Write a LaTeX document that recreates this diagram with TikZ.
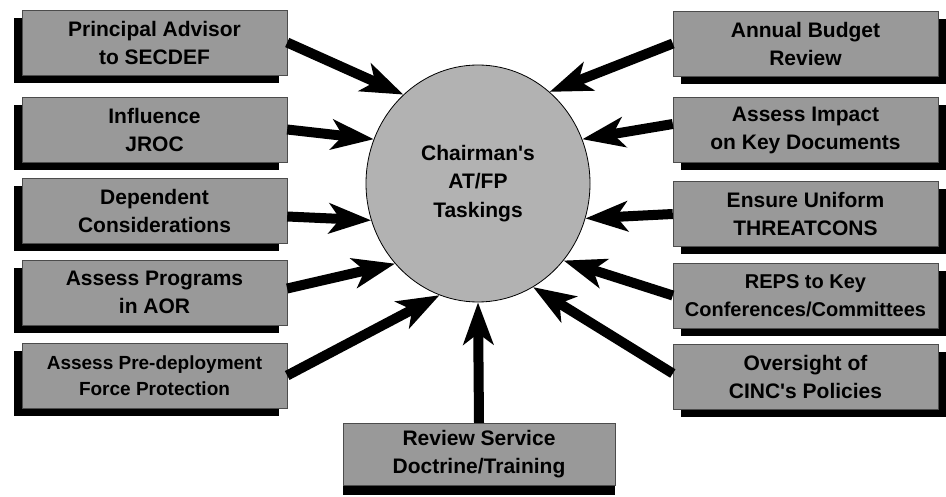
\documentclass[tikz,border=0pt]{standalone}
\usepackage{fontspec}
\setmainfont{Liberation Sans}
\usetikzlibrary{shapes.geometric, shadows, arrows.meta}
\tikzset{every picture/.append style={x=1pt, y=-1pt}}
\tikzset{
    task box/.style={rectangle, draw=black!70, fill=black!40, minimum width=265pt,
    	minimum height=65pt, align=center, inner sep=2pt,
    	font=\fontsize{21}{28}\selectfont\bfseries},
    left box/.style={task box, general shadow={fill=black, shadow xshift=-8pt,
    	shadow yshift=-8pt}},
    right box/.style={task box, general shadow={fill=black, shadow xshift=8pt,
    	shadow yshift=-8pt}},
    feed/.style={line width=10pt, draw=black,
    	-{Stealth[length=42pt, width=30pt, inset=11pt]}}
}

\begin{document}
\begin{tikzpicture}
  \useasboundingbox (0,0) rectangle (946,497);

  \node (task) [ellipse, draw, thick, fill=black!30, minimum width=224pt,
  	minimum height=237pt, align=center,
  	font=\fontsize{21}{28.5}\selectfont\bfseries] at (478,183.5)
  	{Chairman\textquotesingle s\\AT/FP\\Taskings};

  \node (adv) [left box] at (154.5,42.5) {Principal Advisor\\to SECDEF};
  \node (jroc) [left box] at (154.5,129.5) {Influence\\JROC};
  \node (dep) [left box] at (154.5,210.5) {Dependent\\Considerations};
  \node (aor) [left box] at (154.5,292.5) {Assess Programs\\in AOR};
  \node (predep) [left box, font=\fontsize{19}{26}\selectfont\bfseries]
  	at (154.5,375.5) {Assess Pre-deployment\\Force Protection};

  \node (budget) [right box] at (805.5,43.5) {Annual Budget\\Review};
  \node (impact) [right box] at (805.5,130) {Assess Impact\\on Key Documents};
  \node (tcon) [right box] at (805.5,214) {Ensure Uniform\\THREATCONS};
  \node (reps) [right box, font=\fontsize{20}{28}\selectfont\bfseries]
  	at (805.5,295.5) {REPS to Key\\Conferences/Committees};
  \node (cinc) [right box] at (805.5,376.5) {Oversight of\\CINC\textquotesingle s Policies};

  \node (doct) [task box, minimum width=272pt, minimum height=62pt,
  	general shadow={fill=black, shadow yshift=-10pt}] at (479,454)
  	{Review Service\\Doctrine/Training};

  \draw[feed] (adv.east) -- (task.130);
  \draw[feed] (jroc.east) -- (task.157);
  \draw[feed] ([yshift=-6pt]dep.east) -- (task.199);
  \draw[feed] ([yshift=4pt]aor.east) -- (task.224);
  \draw[feed] (predep.east) -- (task.251);
  \draw[feed] (doct.north) -- (task.south);
  \draw[feed] (budget.west) -- (task.52);
  \draw[feed] ([yshift=6pt]impact.west) -- (task.23);
  \draw[feed] (tcon.west) -- (task.342);
  \draw[feed] (reps.west) -- (task.318);
  \draw[feed] ([yshift=3pt]cinc.west) -- (task.298);

\end{tikzpicture}
\end{document}
